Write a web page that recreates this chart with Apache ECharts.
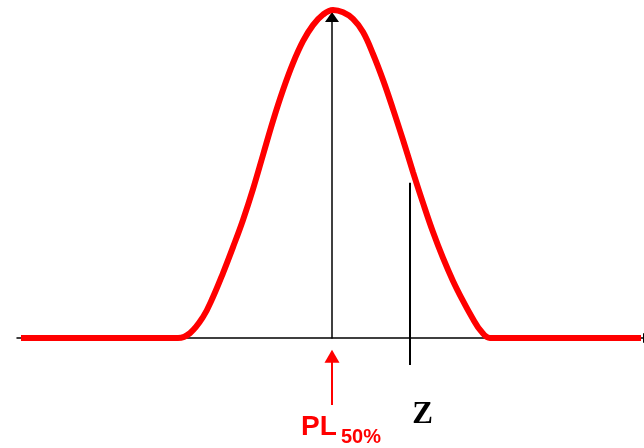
<!DOCTYPE html>
<html>
<head>
<meta charset="utf-8">
<script src="https://cdn.jsdelivr.net/npm/echarts@6/dist/echarts.min.js"></script>
<style>
  html, body { margin: 0; padding: 0; background: #fff; }
  #chart { width: 644px; height: 448px; }
</style>
</head>
<body>
<div id="chart"></div>
<script>
// bell curve (x: offset from the vertical axis, y: height, peak = 100)
const curveX = [-31.1, -17.2, -15.4, -14.2, -12.9, -11.9, -10.9, -9.9, -8.9, -7.9, -6.9, -5.9, -4.9, -3.9, -2.9, -1.9, -0.9, 0.1,
  1.1, 2.1, 3.1, 4.1, 5.1, 6.1, 7.1, 8.1, 9.1, 10.1, 11.1, 12.1, 13.1, 14.1, 14.9, 15.8, 17.6, 30.9];
const curveY = [0, 0, 0, 1.5, 6.4, 12.5, 19.8, 27.7, 36.0, 45.4, 55.8, 66.2, 75.6, 83.8, 90.5, 95.4, 98.6, 100,
  99.3, 97.3, 93.3, 86.6, 78.7, 69.8, 60.4, 50.6, 41.2, 32.3, 24.4, 17.4, 11.3, 5.8, 2.1, 0, 0, 0];

// Z marker line and the PL50% arrow under the axis
const zX = 7.8;
const zY = [47.3, -8.2];
const plX = 0;
const plY = [-20.4, -5.6];

const chart = echarts.init(document.getElementById('chart'));

const hiddenBits = {
  axisTick: { show: false },
  axisLabel: { show: false },
  splitLine: { show: false }
};

const option = {
  animation: false,
  grid: { left: 17, right: 0, top: 12, bottom: 110 },
  xAxis: Object.assign({
    type: 'value',
    min: -31.5,
    max: 31.2,
    axisLine: {
      show: true,
      onZero: true,
      symbol: ['none', 'triangle'],
      symbolSize: [10, 12],
      symbolOffset: [0, 5],
      lineStyle: { color: '#000', width: 1.5 }
    }
  }, hiddenBits),
  yAxis: Object.assign({
    type: 'value',
    min: 0,
    max: 99.4,
    axisLine: {
      show: true,
      onZero: true,
      symbol: ['none', 'triangle'],
      symbolSize: [14, 10],
      symbolOffset: [0, -5],
      lineStyle: { color: '#000', width: 1.5 }
    }
  }, hiddenBits),
  series: [
    {
      // Z line
      type: 'line',
      silent: true,
      clip: false,
      showSymbol: false,
      data: zY.map(y => [zX, y]),
      lineStyle: { color: '#000', width: 2 },
      z: 2
    },
    {
      // arrow pointing at PL50%
      type: 'line',
      silent: true,
      clip: false,
      showSymbol: true,
      data: [
        { value: [plX, plY[0]], symbol: 'none' },
        { value: [plX, plY[1]], symbol: 'triangle', symbolSize: [15, 13] }
      ],
      itemStyle: { color: '#ff0000' },
      lineStyle: { color: '#ff0000', width: 2 },
      z: 2
    },
    {
      type: 'line',
      silent: true,
      data: curveX.map((x, i) => [x, curveY[i]]),
      smooth: 0.4,
      clip: false,
      showSymbol: false,
      lineStyle: { color: '#ff0000', width: 6 },
      z: 3
    }
  ],
  graphic: [
    {
      type: 'text',
      x: 301,
      y: 427.5,
      style: {
        text: 'PL',
        fill: '#ff0000',
        font: 'bold 28px "Liberation Sans", Arial, sans-serif',
        textAlign: 'left',
        textVerticalAlign: 'middle'
      }
    },
    {
      type: 'text',
      x: 341,
      y: 437.5,
      style: {
        text: '50%',
        fill: '#ff0000',
        font: 'bold 20px "Liberation Sans", Arial, sans-serif',
        textAlign: 'left',
        textVerticalAlign: 'middle'
      }
    },
    {
      type: 'text',
      x: 422.5,
      y: 414.5,
      style: {
        text: 'Z',
        fill: '#000',
        font: 'bold 31px "Liberation Serif", "Times New Roman", serif',
        textAlign: 'center',
        textVerticalAlign: 'middle'
      }
    }
  ]
};

chart.setOption(option);
</script>
</body>
</html>
